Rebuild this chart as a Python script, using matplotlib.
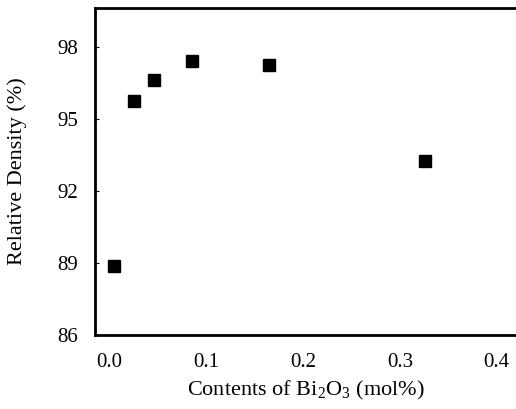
import matplotlib
matplotlib.use('Agg')
import matplotlib.pyplot as plt

# data
bi2o3_content = [0.005, 0.025, 0.046, 0.085, 0.165, 0.326]
rel_density = [88.85, 95.75, 96.6, 97.4, 97.25, 93.25]

x_ticks = [0.0, 0.1, 0.2, 0.3, 0.4]
y_ticks = [86, 89, 92, 95, 98]

plt.rcParams['font.family'] = 'Liberation Serif'
plt.rcParams['mathtext.fontset'] = 'custom'
plt.rcParams['mathtext.rm'] = 'Liberation Serif'

fig = plt.figure(figsize=(5.16, 4.09), dpi=100)
ax = fig.add_axes([0.184, 0.181, 0.816, 0.799])

ax.plot(bi2o3_content, rel_density, linestyle='none', marker='s',
        markersize=9, color='black')

ax.set_xlim(-0.015, 0.42)
ax.set_ylim(86, 99.6)
ax.set_xticks(x_ticks)
ax.set_xticklabels([f'{v:.1f}' for v in x_ticks])
ax.set_yticks(y_ticks)

ax.tick_params(direction='in', length=3, labelsize=15, pad=12)
ax.tick_params(axis='x', length=0, pad=13)
for side in ['left', 'bottom', 'top']:
    ax.spines[side].set_linewidth(2)
ax.spines['right'].set_visible(False)

ax.set_xlabel(r'Contents of Bi$_2$O$_3$ (mol%)', fontsize=16, labelpad=5)
ax.set_ylabel('Relative Density (%)', fontsize=16, labelpad=22)

fig.savefig('out.png', dpi=100)
